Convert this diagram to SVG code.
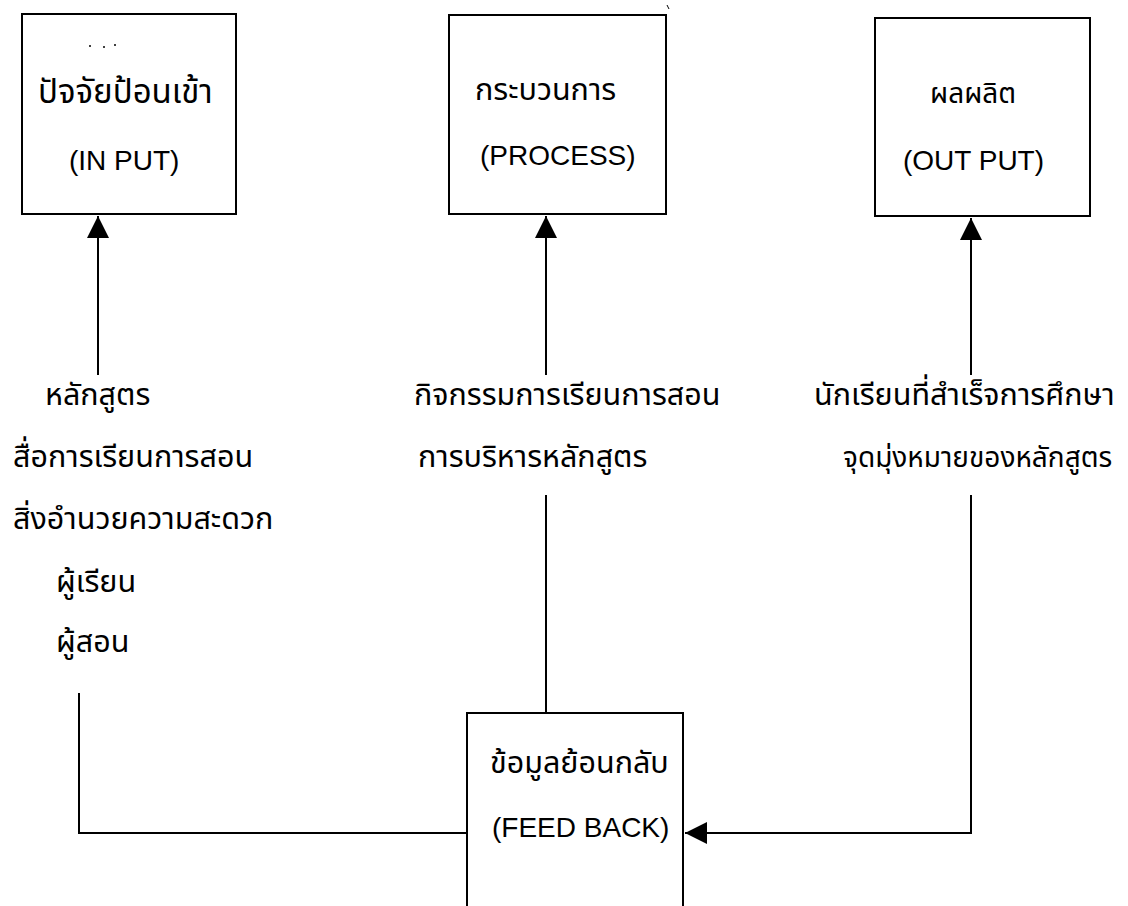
<svg xmlns="http://www.w3.org/2000/svg" width="1128" height="906" viewBox="0 0 1128 906">
<style>
.box{fill:none;stroke:#000;stroke-width:2}
.conn{fill:none;stroke:#000;stroke-width:2}
.t{font-family:"Liberation Sans","Noto Sans Thai","DejaVu Sans",sans-serif;font-size:28px;fill:#000}
.th{font-size:30.5px}
</style>
<defs>
<marker id="arr" markerUnits="userSpaceOnUse" markerWidth="22" markerHeight="22" viewBox="0 0 20 20" refX="20" refY="10" orient="auto">
<path d="M0,0 L20,10 L0,20 Z" fill="#000"/>
</marker>
</defs>
<rect width="1128" height="906" fill="#fff"/>
<g id="input">
<rect class="box" x="22" y="14" width="214" height="200"/>
<circle cx="90" cy="46" r="1" fill="#000"/><circle cx="104" cy="47" r="1" fill="#000"/><circle cx="115" cy="45" r="1" fill="#000"/>
<text class="t th" x="38" y="103" style="font-size:33px">ปัจจัยป้อนเข้า</text>
<text class="t" x="69" y="170">(IN PUT)</text>
</g>
<g id="process">
<rect class="box" x="449" y="15" width="217" height="199"/>
<path d="M667,5 L669,9" stroke="#000" stroke-width="1"/>
<text class="t th" x="475" y="100">กระบวนการ</text>
<text class="t" x="480" y="165">(PROCESS)</text>
</g>
<g id="output">
<rect class="box" x="875" y="18" width="215" height="198"/>
<text class="t th" x="930" y="103" style="font-size:28px">ผลผลิต</text>
<text class="t" x="903" y="170">(OUT PUT)</text>
</g>
<g id="feedback">
<rect class="box" x="467" y="713" width="216" height="220"/>
<text class="t th" x="490" y="773">ข้อมูลย้อนกลับ</text>
<text class="t" x="492" y="837">(FEED BACK)</text>
</g>
<g id="input-items">
<text class="t th" x="45" y="405">หลักสูตร</text>
<text class="t th" x="13" y="467">สื่อการเรียนการสอน</text>
<text class="t th" x="13" y="529">สิ่งอำนวยความสะดวก</text>
<text class="t th" x="56" y="592">ผู้เรียน</text>
<text class="t th" x="56" y="652">ผู้สอน</text>
</g>
<g id="process-items">
<text class="t th" x="414" y="405">กิจกรรมการเรียนการสอน</text>
<text class="t th" x="418" y="467">การบริหารหลักสูตร</text>
</g>
<g id="output-items">
<text class="t th" x="814" y="405">นักเรียนที่สำเร็จการศึกษา</text>
<text class="t th" x="843" y="467" style="font-size:28px">จุดมุ่งหมายของหลักสูตร</text>
</g>
<g id="connectors">
<path class="conn" d="M98,375 V216" marker-end="url(#arr)"/>
<path class="conn" d="M546,375 V216" marker-end="url(#arr)"/>
<path class="conn" d="M971,375 V218" marker-end="url(#arr)"/>
<path class="conn" d="M546,495 V713"/>
<path class="conn" d="M79,693 V833 H467"/>
<path class="conn" d="M971,495 V833 H685" marker-end="url(#arr)"/>
</g>
</svg>
